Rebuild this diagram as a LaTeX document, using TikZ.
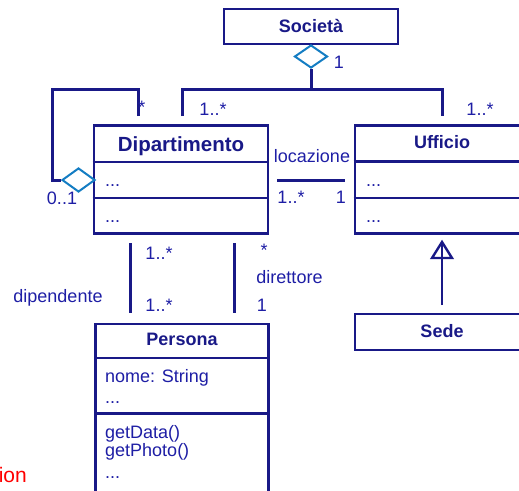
\documentclass[tikz,border=0pt]{standalone}
\usepackage{fontspec}
\setmainfont{Liberation Sans}
\usetikzlibrary{shapes.geometric}
\definecolor{umlline}{RGB}{25,25,135}
\definecolor{umltext}{RGB}{30,30,165}
\definecolor{aggblue}{RGB}{20,125,195}
\definecolor{notered}{RGB}{255,0,0}

\begin{document}
\begin{tikzpicture}[x=1pt,y=-1pt,
  classbox/.style={draw=umlline, line width=2.6pt, rectangle, inner sep=0pt, fill=white},
  divider/.style={draw=umlline, line width=2.4pt},
  conn/.style={draw=umlline, line width=3pt},
  title/.style={font=\fontsize{18}{20}\selectfont\bfseries, text=umlline, anchor=base, inner sep=0pt},
  lbl/.style={font=\fontsize{18}{20}\selectfont, text=umltext, anchor=base, inner sep=0pt},
  attr/.style={font=\fontsize{18}{20}\selectfont, text=umltext, anchor=base west, inner sep=0pt},
  aggr/.style={diamond, draw=aggblue, line width=2pt, fill=white, inner sep=0pt,
               minimum width=33pt, minimum height=23pt},
]
\useasboundingbox (0,0) rectangle (519,490);
\clip (0,0) rectangle (519,490);

% class boxes
\node[classbox, minimum width=174pt, minimum height=35pt]  (soc)  at (311,26.5) {};
\node[classbox, minimum width=174pt, minimum height=108pt] (dip)  at (181,179.5) {};
\node[classbox, minimum width=174pt, minimum height=108pt] (uff)  at (442,179.5) {};
\node[classbox, minimum width=173pt, minimum height=236pt] (pers) at (182,442) {};
\node[classbox, minimum width=174pt, minimum height=36pt]  (sede) at (442,332) {};

% compartment separators
\draw[divider] (dip.west |- 0,162) -- (dip.east |- 0,162);
\draw[divider] (dip.west |- 0,198) -- (dip.east |- 0,198);
\draw[divider] (uff.west |- 0,161.5) -- (uff.east |- 0,161.5);
\draw[divider] (uff.west |- 0,198) -- (uff.east |- 0,198);
\draw[divider] (pers.west |- 0,358) -- (pers.east |- 0,358);
\draw[divider, line width=3pt] (pers.west |- 0,413) -- (pers.east |- 0,413);

% class names
\node[title] (soct) at (311,32) {Società};
\node[title, font=\fontsize{20.5}{22}\selectfont\bfseries] (dipt) at (181,151) {Dipartimento};
\node[title] (ufft) at (442,148) {Ufficio};
\node[title] (perst) at (182,345) {Persona};
\node[title] (sedet) at (442,337) {Sede};

% compartment contents
\node[attr] (dipa) at (105,186) {...};
\node[attr] (dipo) at (105,222) {...};
\node[attr] (uffa) at (366,186) {...};
\node[attr] (uffo) at (366,222) {...};
\node[attr] (pa1) at (105,382) {nome: String};
\node[attr] (pa2) at (105,403) {...};
\node[attr] (po1) at (105,438) {getData()};
\node[attr] (po2) at (105,456) {getPhoto()};
\node[attr] (po3) at (105,478) {...};

% aggregation Societa -> Dipartimento / Ufficio
\coordinate (j)    at (311,89);
\coordinate (dtop) at (182,116);
\coordinate (utop) at (442,116);
\node[aggr] (agg1) at (311,56.5) {};
\draw[conn] (agg1.south) -- (j);
\draw[conn] (dtop) |- (j) -| (utop);

% recursive aggregation on Dipartimento
\coordinate (lt) at (138,116);
\coordinate (lc) at (52,89);
\node[aggr, minimum height=24pt] (agg2) at (78.5,180) {};
\draw[conn] (lt) |- (lc) |- (agg2.west);

% locazione association
\coordinate (la) at (277,180);
\coordinate (lb) at (345,180);
\draw[conn] (la) -- (lb);

% dipendente / direttore associations
\coordinate (d1a) at (130,243);
\coordinate (d1b) at (130,313);
\coordinate (d2a) at (234,243);
\coordinate (d2b) at (234,313);
\draw[conn] (d1a) -- (d1b);
\draw[conn] (d2a) -- (d2b);

% generalisation Sede -> Ufficio
\coordinate (gtip) at (442,242);
\coordinate (gbot) at (442,305);
\draw[conn, line width=2.6pt] (gbot) -- (gtip);
\draw[draw=umlline, line width=2.4pt, line join=miter] (gtip) -- ++(-10,16) -- ++(20,0) -- cycle;

% multiplicities and role names
\node[lbl] (m1)  at (339,68) {1};
\node[lbl] (m2)  at (213,115) {1..*};
\node[lbl] (m3)  at (480,115) {1..*};
\node[lbl] (m4)  at (142,113) {*};
\node[lbl] (m5)  at (62,204) {0..1};
\node[lbl] (loc) at (312,162) {locazione};
\node[lbl] (m6)  at (291,203) {1..*};
\node[lbl] (m7)  at (341,203) {1};
\node[lbl] (m8)  at (159,259) {1..*};
\node[lbl] (m9)  at (159,311) {1..*};
\node[lbl] (m10) at (264,256) {*};
\node[lbl] (dir) at (289.5,283) {direttore};
\node[lbl] (m11) at (262,311) {1};
\node[lbl] (dipn) at (58,302) {dipendente};

\node[font=\fontsize{21}{23}\selectfont, text=notered, anchor=base east, inner sep=0pt] (note) at (27,482) {ion};
\end{tikzpicture}
\end{document}
